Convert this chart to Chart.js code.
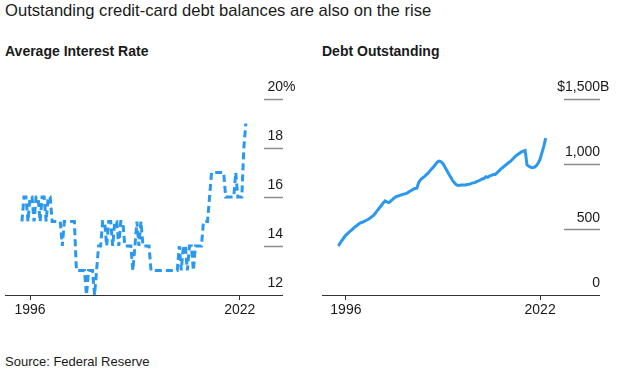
<!DOCTYPE html>
<html>
<head>
<meta charset="utf-8">
<script src="https://cdn.jsdelivr.net/npm/chart.js@4.4.1/dist/chart.umd.min.js"></script>
<style>
  html, body { margin: 0; padding: 0; background: #fff; }
  body { width: 622px; height: 376px; position: relative; overflow: hidden; font-family: "Liberation Sans", Arial, sans-serif; color: #1a1a1a; }
  .title { position: absolute; left: 5px; top: 1px; font-size: 16.6px; white-space: nowrap; }
  .sub { position: absolute; top: 43px; font-size: 14px; font-weight: bold; white-space: nowrap; }
  .source { position: absolute; left: 5px; top: 354px; font-size: 13px; white-space: nowrap; }
  canvas { position: absolute; }
</style>
</head>
<body>
<div class="title">Outstanding credit-card debt balances are also on the rise</div>
<div class="sub" style="left:5px">Average Interest Rate</div>
<div class="sub" style="left:322px">Debt Outstanding</div>
<canvas id="c1" width="311" height="260" style="left:0;top:70px"></canvas>
<canvas id="c2" width="311" height="260" style="left:311px;top:70px"></canvas>
<div class="source">Source: Federal Reserve</div>
<script>
// ---- data (quarterly, starting 1995 Q1) ----
const startYear = 1995;
const xTickYears = [1996, 2022];

// Average interest rate, %
const rateValues = [
  15, 16, 16, 15,   // 1995
  16, 16, 15, 16,   // 1996
  16, 15, 16, 16,   // 1997
  15, 16, 16, 15,   // 1998
  15, 15, 15, 15,   // 1999
  14, 15, 15, 15,   // 2000
  15, 15, 15, 13,   // 2001
  13, 13, 13, 13,   // 2002
  12, 13, 13, 13,   // 2003
  12, 13, 14, 14,   // 2004
  15, 15, 14, 15,   // 2005
  15, 14, 15, 15,   // 2006
  14, 15, 15, 14,   // 2007
  14, 14, 14, 13,   // 2008
  14, 15, 14, 15,   // 2009
  14, 14, 14, 14,   // 2010
  13, 13, 13, 13,   // 2011
  13, 13, 13, 13,   // 2012
  13, 13, 13, 13,   // 2013
  13, 13, 14, 13,   // 2014
  14, 14, 13, 14,   // 2015
  14, 13, 14, 14,   // 2016
  14, 14, 15, 15,   // 2017
  15, 16, 17, 17,   // 2018
  17, 17, 17, 17,   // 2019
  17, 16, 16, 16,   // 2020
  16, 16, 17, 16,   // 2021
  16, 16, 18, 19    // 2022
];
const rateTicks = [12, 14, 16, 18, 20];

// Debt outstanding, $ billions
const debtValues = [
  375, 400, 420, 440,      // 1995
  459, 472, 485, 497,      // 1996
  510, 522, 533, 545,      // 1997
  553, 558, 565, 572,      // 1998
  580, 590, 600, 612,      // 1999
  630, 650, 668, 685,      // 2000
  705, 720, 712, 707,      // 2001
  718, 732, 745, 752,      // 2002
  758, 762, 768, 772,      // 2003
  776, 782, 792, 800,      // 2004
  808, 815, 818, 862,      // 2005
  882, 896, 906, 919,      // 2006
  932, 950, 966, 982,      // 2007
  1000, 1018, 1025, 1020,  // 2008
  1005, 980, 955, 928,     // 2009
  905, 880, 860, 845,      // 2010
  838, 840, 842, 842,      // 2011
  842, 845, 848, 852,      // 2012
  858, 860, 868, 874,      // 2013
  880, 888, 893, 905,      // 2014
  900, 912, 915, 922,      // 2015
  922, 936, 950, 965,      // 2016
  976, 988, 1000, 1012,    // 2017
  1021, 1035, 1050, 1065,  // 2018
  1075, 1085, 1095, 1100,  // 2019
  1105, 995, 985, 978,     // 2020
  975, 978, 990, 1010,     // 2021
  1039, 1090, 1140, 1200   // 2022
];
const debtTicks = [0, 500, 1000, 1500];

// ---- styling ----
const BLUE = '#2a98ee';
const AXIS = '#333333';
const TICKLINE = '#8c8c8c';
const FONT = { family: '"Liberation Sans", Arial, sans-serif', size: 14 };

const topLabelPlugin = {
  id: 'topLabel',
  afterDraw(chart, args, opts) {
    const s = chart.scales.y;
    const ctx = chart.ctx;
    const y = s.getPixelForValue(s.max) + opts.offset;
    ctx.save();
    ctx.font = `${FONT.size}px ${FONT.family}`;
    ctx.fillStyle = '#1a1a1a';
    ctx.textBaseline = 'middle';
    ctx.textAlign = 'left';
    const full = opts.prefix + opts.num + opts.suffix;
    const w = ctx.measureText(opts.prefix + opts.num).width;
    ctx.fillText(full, s.left + opts.len - w, y);
    ctx.restore();
  }
};

function makeChart(id, values, ticks, yMin, yMax, xMin, xMax, tickLen, padLeft, padRight, dashed, fmt, top) {
  const pts = values.map((v, i) => ({ x: startYear + i / 4, y: v }));
  return new Chart(document.getElementById(id), {
    type: 'line',
    data: { datasets: [{
      data: pts,
      borderColor: BLUE,
      borderWidth: 3,
      borderDash: dashed ? [7, 4] : [],
      pointRadius: 0,
      tension: 0,
      fill: false
    }]},
    options: {
      responsive: false,
      animation: false,
      events: [],
      layout: { padding: { left: padLeft, right: padRight, top: 29, bottom: 10 } },
      plugins: { legend: { display: false }, tooltip: { enabled: false }, topLabel: top },
      scales: {
        x: {
          type: 'linear', position: 'bottom', min: xMin, max: xMax,
          afterBuildTicks: s => { s.ticks = xTickYears.map(v => ({ value: v })); },
          afterFit: s => { s.height = 25; s.paddingLeft = 0; s.paddingRight = 0; },
          grid: { drawOnChartArea: false, drawTicks: true, tickLength: 5, tickColor: AXIS, tickWidth: 1 },
          border: { display: true, color: AXIS, width: 1 },
          ticks: { color: '#1a1a1a', font: FONT, padding: 2, maxRotation: 0, autoSkip: false, callback: v => String(v) }
        },
        y: {
          type: 'linear', position: 'right', min: yMin, max: yMax,
          afterBuildTicks: s => { s.ticks = ticks.map(v => ({ value: v })); },
          afterFit: s => { s.width = tickLen; s.paddingTop = 0; s.paddingBottom = 0; },
          grid: {
            drawOnChartArea: false, drawTicks: true, tickLength: tickLen,
            tickColor: c => (c.tick && c.tick.value === yMin) ? AXIS : TICKLINE,
            tickWidth: c => (c.tick && c.tick.value === yMin) ? 1 : 1.5
          },
          border: { display: false },
          ticks: {
            mirror: true, padding: tickLen, labelOffset: -12, color: '#1a1a1a', font: FONT,
            autoSkip: false,
            callback: v => v === yMax ? '' : fmt(v)
          }
        }
      }
    },
    plugins: [topLabelPlugin]
  });
}

makeChart('c1', rateValues, rateTicks, 12, 20, 1992.9, 2025.0, 19, 5, 28, true,
  v => String(v), { prefix: '', num: '20', suffix: '%', len: 19, offset: -12 });
makeChart('c2', debtValues, debtTicks, 0, 1500, 1992.8, 2025.2, 36, 11, 22, false,
  v => v.toLocaleString('en-US'), { prefix: '$', num: '1,500', suffix: 'B', len: 36, offset: -12 });
</script>
</body>
</html>
